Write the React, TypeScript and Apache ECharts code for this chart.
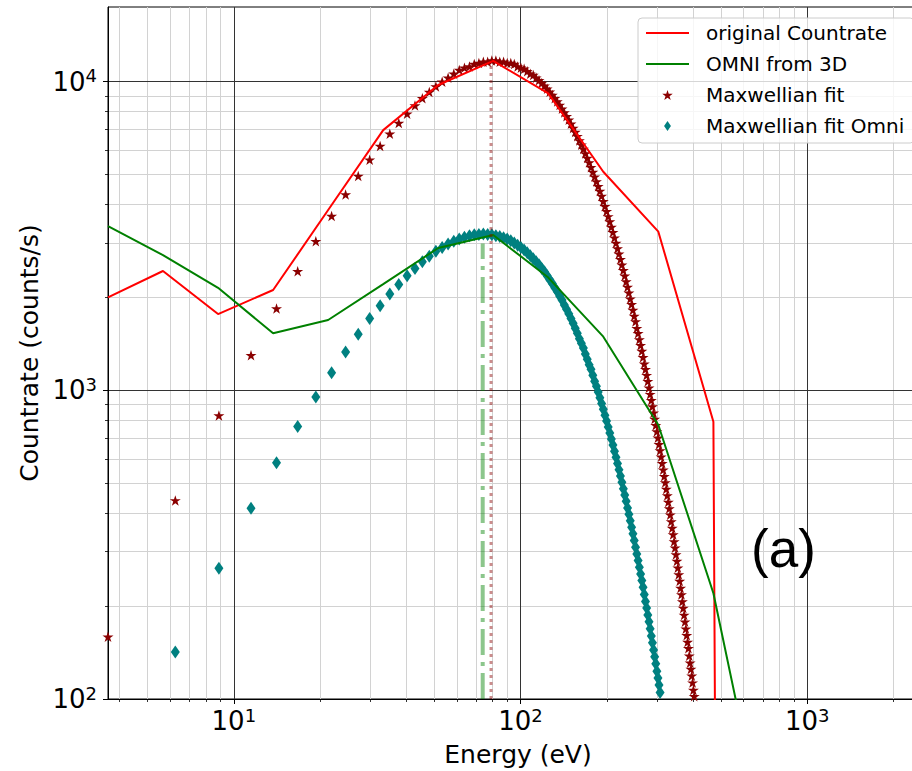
import React, { useEffect, useRef } from 'react';
import * as echarts from 'echarts';

// Instrument channels (original count rate and OMNI from 3D)
const channelEnergy = [3.64, 5.66, 8.81, 13.71, 21.33, 33.19, 51.63, 80.32, 124.96, 194.4, 302.5, 470.7, 732.4];
const originalCountrate = [2000, 2435, 1766, 2113, 3837, 6966, 9750, 11670, 9163, 5105, 3265, 791, 0];
const omniFrom3D = [3405, 2743, 2148, 1530, 1690, 2208, 2891, 3186, 2319, 1492, 772, 220, 31.2];

// Energies of the fitted curves
const fitEnergy = [
  3.64, 6.25, 8.87, 11.48, 14.09, 16.7, 19.32, 21.93, 24.54, 27.16, 29.77, 32.38,
  35, 37.61, 40.22, 42.84, 45.45, 48.06, 50.67, 53.29, 55.9, 58.51, 61.13, 63.74,
  66.35, 68.97, 71.58, 74.19, 76.8, 79.42, 82.03, 84.64, 87.26, 89.87, 92.48, 95.09,
  97.71, 100.32, 102.93, 105.55, 108.16, 110.77, 113.39, 116, 118.61, 121.22, 123.84, 126.45,
  129.06, 131.68, 134.29, 136.9, 139.52, 142.13, 144.74, 147.35, 149.97, 152.58, 155.19, 157.81,
  160.42, 163.03, 165.65, 168.26, 170.87, 173.48, 176.1, 178.71, 181.32, 183.94, 186.55, 189.16,
  191.78, 194.39, 197, 199.61, 202.23, 204.84, 207.45, 210.07, 212.68, 215.29, 217.91, 220.52,
  223.13, 225.74, 228.36, 230.97, 233.58, 236.2, 238.81, 241.42, 244.04, 246.65, 249.26, 251.87,
  254.49, 257.1, 259.71, 262.33, 264.94, 267.55, 270.17, 272.78, 275.39, 278, 280.62, 283.23,
  285.84, 288.46, 291.07, 293.68, 296.3, 298.91, 301.52, 304.13, 306.75, 309.36, 311.97, 314.59,
  317.2, 319.81, 322.43, 325.04, 327.65, 330.26, 332.88, 335.49, 338.1, 340.72, 343.33, 345.94,
  348.56, 351.17, 353.78, 356.39, 359.01, 361.62, 364.23, 366.85, 369.46, 372.07, 374.69, 377.3,
  379.91, 382.52, 385.14, 387.75, 390.36, 392.98, 395.59, 398.2, 400.82, 403.43, 406.04, 408.65,
];

// Maxwellian fit (one value per fitEnergy)
const maxwellianFit = [
  159, 440, 829, 1300, 1840, 2430, 3040, 3670, 4310, 4950, 5580, 6190,
  6780, 7340, 7870, 8370, 8830, 9260, 9650, 10000, 10300, 10600, 10900, 11100,
  11200, 11400, 11500, 11600, 11600, 11700, 11700, 11600, 11600, 11500, 11500, 11400,
  11200, 11100, 11000, 10800, 10600, 10500, 10300, 10100, 9900, 9690, 9480, 9270,
  9050, 8840, 8620, 8400, 8170, 7950, 7730, 7520, 7300, 7080, 6870, 6660,
  6450, 6250, 6050, 5850, 5660, 5470, 5280, 5100, 4920, 4750, 4580, 4420,
  4260, 4100, 3950, 3800, 3660, 3520, 3380, 3250, 3120, 3000, 2880, 2770,
  2660, 2550, 2450, 2350, 2250, 2160, 2070, 1980, 1900, 1820, 1740, 1670,
  1590, 1530, 1460, 1400, 1340, 1280, 1220, 1170, 1120, 1070, 1020, 972,
  928, 886, 846, 808, 771, 735, 702, 669, 638, 609, 580, 553,
  527, 503, 479, 456, 435, 414, 395, 376, 358, 341, 324, 309,
  294, 280, 266, 253, 241, 229, 218, 207, 197, 187, 178, 169,
  161, 153, 146, 138, 131, 125, 119, 113, 107, 102, 96.6, 91.7,
];

// Maxwellian fit Omni (values for fitEnergy[1] .. fitEnergy[119])
const maxwellianFitOmni = [
  142, 265, 415, 583, 763, 951, 1140, 1330, 1520, 1710, 1880, 2050,
  2200, 2350, 2480, 2610, 2720, 2820, 2900, 2980, 3040, 3090, 3130, 3170,
  3190, 3200, 3210, 3200, 3190, 3170, 3150, 3120, 3090, 3050, 3000, 2950,
  2900, 2850, 2790, 2730, 2670, 2610, 2550, 2480, 2420, 2350, 2280, 2220,
  2150, 2090, 2020, 1960, 1890, 1830, 1770, 1710, 1650, 1590, 1530, 1470,
  1420, 1370, 1310, 1260, 1210, 1170, 1120, 1070, 1030, 987, 946, 906,
  868, 831, 795, 761, 728, 696, 665, 635, 607, 579, 553, 528,
  504, 480, 458, 437, 416, 397, 378, 360, 343, 326, 310, 295,
  281, 267, 254, 242, 230, 218, 207, 197, 187, 178, 169, 160,
  152, 144, 137, 130, 123, 117, 111, 105, 99.8, 94.6, 89.6,
];

// Peak markers: [energy, countrate at top]
const peakFit = [78.9, 11600];
const peakFitOmni = [73.8, 2990];

// Axes
const xRange = [3.64, 2638];
const yRange = [100, 17450];
const xMajorTicks = [10, 100, 1000];
const xMinorTicks = [4, 5, 6, 7, 8, 9, 20, 30, 40, 50, 60, 70, 80, 90, 200, 300, 400, 500, 600, 700, 800, 900, 2000];
const yMajorTicks = [100, 1000, 10000];
const yMinorTicks = [200, 300, 400, 500, 600, 700, 800, 900, 2000, 3000, 4000, 5000, 6000, 7000, 8000, 9000];

const seriesNames = ['original Countrate', 'OMNI from 3D', 'Maxwellian fit', 'Maxwellian fit Omni'];

const STAR = 'path://M0,-1 L0.2245,-0.309 L0.951,-0.309 L0.363,0.118 L0.588,0.809 L0,0.382 L-0.588,0.809 L-0.363,0.118 L-0.951,-0.309 L-0.2245,-0.309 Z';
const THIN_DIAMOND = 'path://M0,-1.45 L1,0 L0,1.45 L-1,0 Z';

const FONT = 'DejaVu Sans';

const powLabel = (v: number) => `{b|10}{s|${Math.round(Math.log10(v))}}`;
const richLabel = {
  b: { fontSize: 26, lineHeight: 30, fontFamily: FONT, color: '#000' },
  s: { fontSize: 18, lineHeight: 18, fontFamily: FONT, color: '#000', verticalAlign: 'top' },
};

export default function App() {
  const ref = useRef<HTMLDivElement>(null);

  useEffect(() => {
    if (!ref.current) return;
    const chart = echarts.init(ref.current, undefined, { renderer: 'svg' });

    const positive = (v: number) => (v > 0 ? v : 1e-30);

    const option: any = {
      animation: false,
      backgroundColor: '#ffffff',
      grid: {
        left: 108,
        width: 820,
        top: 7,
        bottom: 72,
        outerBoundsMode: 'none',
        containLabel: false,
        show: true,
        borderColor: '#000',
        borderWidth: 1,
        backgroundColor: 'transparent',
      },
      legend: {
        orient: 'vertical',
        left: 638,
        top: 18,
        padding: [4, 10, 6, 7],
        itemWidth: 43,
        itemHeight: 10,
        itemGap: 9,
        selectedMode: false,
        backgroundColor: 'rgba(255,255,255,0.8)',
        borderColor: '#cccccc',
        borderWidth: 1,
        borderRadius: 4,
        textStyle: { fontSize: 20, fontFamily: FONT, color: '#000', lineHeight: 22, padding: [0, 0, 0, 12] },
        data: [
          { name: seriesNames[0], itemStyle: { opacity: 0 } },
          { name: seriesNames[1], itemStyle: { opacity: 0 } },
          { name: seriesNames[2] },
          { name: seriesNames[3], icon: THIN_DIAMOND },
        ],
      },
      xAxis: [
        {
          type: 'log',
          logBase: 10,
          min: xRange[0],
          max: xRange[1],
          position: 'bottom',
          z: 1,
          axisLine: { show: true, lineStyle: { color: '#000', width: 1 } },
          axisTick: { show: true, customValues: xMajorTicks, length: 5, inside: false, lineStyle: { color: '#000', width: 1 } },
          axisLabel: { show: true, customValues: xMajorTicks, margin: 7, formatter: powLabel, rich: richLabel },
          splitLine: { show: true, lineStyle: { color: '#333333', width: 1 } },
          minorTick: { show: false },
          name: 'Energy (eV)',
          nameLocation: 'middle',
          nameGap: 43,
          nameTextStyle: { fontSize: 25, fontFamily: FONT, color: '#000' },
        },
        {
          type: 'log',
          logBase: 10,
          min: xRange[0],
          max: xRange[1],
          position: 'bottom',
          z: 0,
          axisLine: { show: false },
          axisTick: { show: true, customValues: xMinorTicks, length: 3, inside: false, lineStyle: { color: '#000', width: 0.8 } },
          axisLabel: { show: false },
          splitLine: { show: true, lineStyle: { color: '#d2d2d2', width: 1 } },
        },
      ],
      yAxis: [
        {
          type: 'log',
          logBase: 10,
          min: yRange[0],
          max: yRange[1],
          position: 'left',
          z: 1,
          axisLine: { show: true, lineStyle: { color: '#000', width: 1 } },
          axisTick: { show: true, customValues: yMajorTicks, length: 5, inside: false, lineStyle: { color: '#000', width: 1 } },
          axisLabel: { show: true, customValues: yMajorTicks, margin: 11, formatter: powLabel, rich: richLabel },
          splitLine: { show: true, lineStyle: { color: '#333333', width: 1 } },
          name: 'Countrate (counts/s)',
          nameLocation: 'middle',
          nameGap: 66,
          nameTextStyle: { fontSize: 25, fontFamily: FONT, color: '#000' },
        },
        {
          type: 'log',
          logBase: 10,
          min: yRange[0],
          max: yRange[1],
          position: 'left',
          z: 0,
          axisLine: { show: false },
          axisTick: { show: true, customValues: yMinorTicks, length: 3, inside: false, lineStyle: { color: '#000', width: 0.8 } },
          axisLabel: { show: false },
          splitLine: { show: true, lineStyle: { color: '#d2d2d2', width: 1 } },
        },
      ],
      graphic: [
        {
          type: 'text',
          left: 751,
          top: 522,
          z: 10,
          style: { text: '(a)', fontSize: 53, fontFamily: 'Liberation Sans', fill: '#000' },
        },
      ],
      series: [
        {
          name: seriesNames[0],
          type: 'line',
          xAxisIndex: 0,
          yAxisIndex: 0,
          symbol: 'none',
          data: originalCountrate.map((v, i) => [channelEnergy[i], positive(v)]),
          lineStyle: { color: '#ff0000', width: 2 },
          itemStyle: { color: '#ff0000' },
          clip: true,
        },
        {
          name: seriesNames[1],
          type: 'line',
          xAxisIndex: 0,
          yAxisIndex: 0,
          symbol: 'none',
          data: omniFrom3D.map((v, i) => [channelEnergy[i], positive(v)]),
          lineStyle: { color: '#008000', width: 2 },
          itemStyle: { color: '#008000' },
          clip: true,
        },
        {
          name: seriesNames[2],
          type: 'scatter',
          xAxisIndex: 0,
          yAxisIndex: 0,
          symbol: STAR,
          symbolSize: [11, 10.5],
          data: maxwellianFit.map((v, i) => [fitEnergy[i], v]),
          itemStyle: { color: '#8b0000', opacity: 1 },
          clip: true,
        },
        {
          name: seriesNames[3],
          type: 'scatter',
          xAxisIndex: 0,
          yAxisIndex: 0,
          symbol: 'diamond',
          symbolSize: [9, 13],
          data: maxwellianFitOmni.map((v, i) => [fitEnergy[i + 1], v]),
          itemStyle: { color: '#008080', opacity: 1 },
          clip: true,
        },
        {
          name: 'peak fit',
          type: 'line',
          xAxisIndex: 0,
          yAxisIndex: 0,
          symbol: 'none',
          data: [
            [peakFit[0], yRange[0]],
            [peakFit[0], peakFit[1]],
          ],
          lineStyle: { color: 'rgba(139,0,0,0.45)', width: 3, type: [3, 4] },
          clip: true,
        },
        {
          name: 'peak fit omni',
          type: 'line',
          xAxisIndex: 0,
          yAxisIndex: 0,
          symbol: 'none',
          data: [
            [peakFitOmni[0], yRange[0]],
            [peakFitOmni[0], peakFitOmni[1]],
          ],
          lineStyle: { color: 'rgba(0,128,0,0.45)', width: 4, type: [26, 7, 4, 7] },
          clip: true,
        },
      ],
    };

    chart.setOption(option);
    return () => chart.dispose();
  }, []);

  return (
    <div
      ref={ref}
      style={{ position: 'fixed', left: 0, top: 0, width: 912, height: 771, background: '#fff' }}
    />
  );
}
